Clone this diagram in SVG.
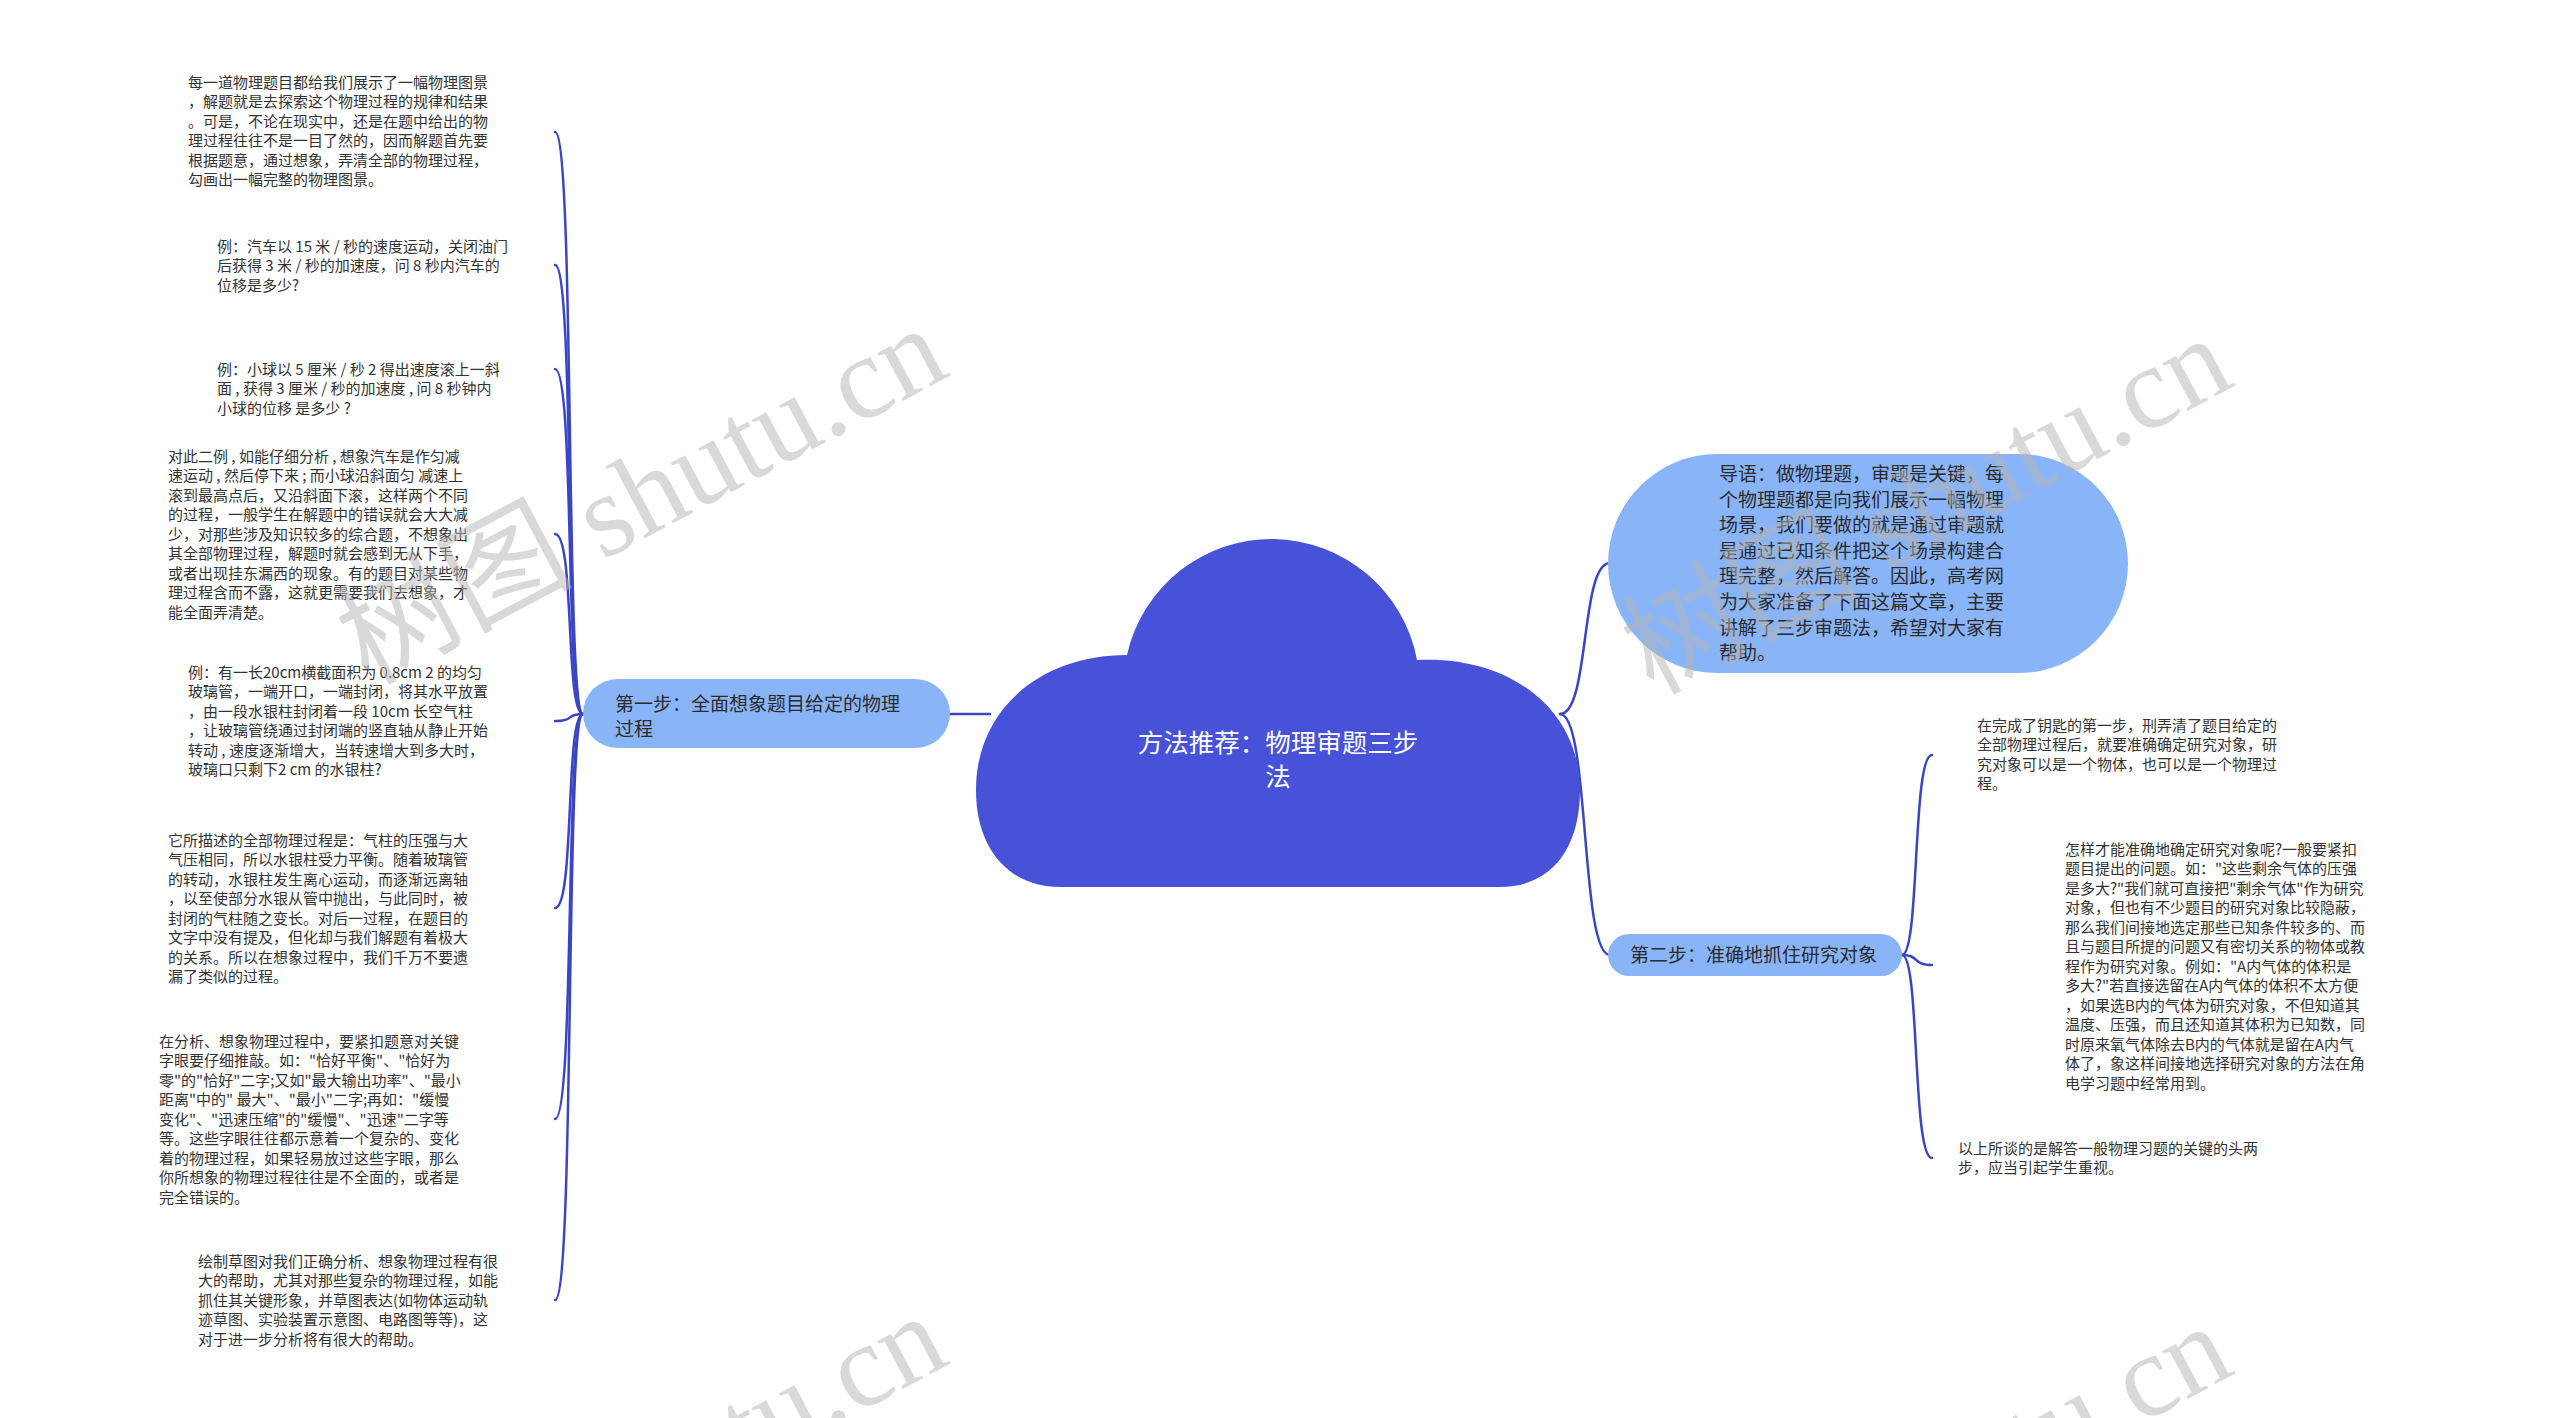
<svg xmlns="http://www.w3.org/2000/svg" width="2560" height="1418" viewBox="0 0 2560 1418">
<style>
.leaf{font-family:"Noto Sans CJK SC","Noto Sans",sans-serif;font-size:15px;fill:#333333;}
.topic{font-family:"Noto Sans CJK SC","Noto Sans",sans-serif;font-size:19px;fill:#2b2b2b;}
.main{font-family:"Noto Sans CJK SC","Noto Sans",sans-serif;font-size:25.5px;fill:#ffffff;text-anchor:middle;}
.node{fill:#8ab4f8;}
.conn{fill:none;stroke:#3a45c6;stroke-width:2.5;stroke-linecap:round;}
.wm{font-family:"Liberation Serif","Noto Sans CJK SC",serif;font-size:118px;fill:#b4b4b4;opacity:0.5;text-anchor:middle;}
</style>
<rect width="2560" height="1418" fill="#ffffff"/>
<g id="connectors">
<path class="conn" d="M950,714 L990,714"/>
<path class="conn" d="M1560,714 C1590,714 1580,563 1610,563"/>
<path class="conn" d="M1560,714 C1590,714 1580,955 1610,955"/>
<path class="conn" d="M583,714 C565,714 575,132 555,132"/>
<path class="conn" d="M583,714 C565,714 575,265 555,265"/>
<path class="conn" d="M583,714 C565,714 575,369 555,369"/>
<path class="conn" d="M583,714 C565,714 575,534 555,534"/>
<path class="conn" d="M583,714 C565,714 575,721 555,721"/>
<path class="conn" d="M583,714 C565,714 575,908 555,908"/>
<path class="conn" d="M583,714 C565,714 575,1119 555,1119"/>
<path class="conn" d="M583,714 C565,714 575,1300 555,1300"/>
<path class="conn" d="M1902,955 C1920,955 1912,755 1932,755"/>
<path class="conn" d="M1902,955 C1920,955 1912,965 1932,965"/>
<path class="conn" d="M1902,955 C1920,955 1912,1158 1932,1158"/>
</g>
<g id="root">
<path d="M1060,887 C1010,887 976,850 976,790 C976,710 1040,655 1127,655 A148 148 0 0 1 1417,660 C1510,655 1580,710 1580,790 C1580,850 1550,887 1500,887 Z" fill="#4752d8"/>
<text class="main" x="1278" y="752">方法推荐：物理审题三步</text>
<text class="main" x="1278" y="786">法</text>
</g>
<g id="step1">
<rect class="node" x="583" y="679" width="367" height="69" rx="34.5"/>
<text class="topic"><tspan x="615" y="711">第一步：全面想象题目给定的物理</tspan><tspan x="615" y="736">过程</tspan></text>
</g>
<g id="intro">
<rect class="node" x="1608" y="454" width="520" height="219" rx="109.5"/>
<text class="topic"><tspan x="1719" y="481">导语：做物理题，审题是关键，每</tspan><tspan x="1719" y="506.6">个物理题都是向我们展示一幅物理</tspan><tspan x="1719" y="532.2">场景，我们要做的就是通过审题就</tspan><tspan x="1719" y="557.8">是通过已知条件把这个场景构建合</tspan><tspan x="1719" y="583.4">理完整，然后解答。因此，高考网</tspan><tspan x="1719" y="609">为大家准备了下面这篇文章，主要</tspan><tspan x="1719" y="634.6">讲解了三步审题法，希望对大家有</tspan><tspan x="1719" y="660.2">帮助。</tspan></text>
</g>
<g id="step2">
<rect class="node" x="1608" y="934" width="294" height="42" rx="21"/>
<text class="topic" x="1630" y="962">第二步：准确地抓住研究对象</text>
</g>
<g id="leaf1">
<text class="leaf"><tspan x="188" y="87.5">每一道物理题目都给我们展示了一幅物理图景</tspan><tspan x="188" y="107">，解题就是去探索这个物理过程的规律和结果</tspan><tspan x="188" y="126.5">。可是，不论在现实中，还是在题中给出的物</tspan><tspan x="188" y="146">理过程往往不是一目了然的，因而解题首先要</tspan><tspan x="188" y="165.5">根据题意，通过想象，弄清全部的物理过程，</tspan><tspan x="188" y="185">勾画出一幅完整的物理图景。</tspan></text>
</g>
<g id="leaf2">
<text class="leaf"><tspan x="217" y="251.5">例：汽车以 15 米 / 秒的速度运动，关闭油门</tspan><tspan x="217" y="271">后获得 3 米 / 秒的加速度，问 8 秒内汽车的</tspan><tspan x="217" y="290.5">位移是多少?</tspan></text>
</g>
<g id="leaf3">
<text class="leaf"><tspan x="217" y="374.5">例：小球以 5 厘米 / 秒 2 得出速度滚上一斜</tspan><tspan x="217" y="394">面 , 获得 3 厘米 / 秒的加速度 , 问 8 秒钟内</tspan><tspan x="217" y="413.5">小球的位移 是多少 ?</tspan></text>
</g>
<g id="leaf4">
<text class="leaf"><tspan x="168" y="461.5">对此二例 , 如能仔细分析 , 想象汽车是作匀减</tspan><tspan x="168" y="481">速运动 , 然后停下来 ; 而小球沿斜面匀 减速上</tspan><tspan x="168" y="500.5">滚到最高点后，又沿斜面下滚，这样两个不同</tspan><tspan x="168" y="520">的过程，一般学生在解题中的错误就会大大减</tspan><tspan x="168" y="539.5">少，对那些涉及知识较多的综合题，不想象出</tspan><tspan x="168" y="559">其全部物理过程，解题时就会感到无从下手，</tspan><tspan x="168" y="578.5">或者出现挂东漏西的现象。有的题目对某些物</tspan><tspan x="168" y="598">理过程含而不露，这就更需要我们去想象，才</tspan><tspan x="168" y="617.5">能全面弄清楚。</tspan></text>
</g>
<g id="leaf5">
<text class="leaf"><tspan x="188" y="677.5">例：有一长20cm横截面积为 0.8cm 2 的均匀</tspan><tspan x="188" y="697">玻璃管，一端开口，一端封闭，将其水平放置</tspan><tspan x="188" y="716.5">，由一段水银柱封闭着一段 10cm 长空气柱</tspan><tspan x="188" y="736">，让玻璃管绕通过封闭端的竖直轴从静止开始</tspan><tspan x="188" y="755.5">转动 , 速度逐渐增大，当转速增大到多大时，</tspan><tspan x="188" y="775">玻璃口只剩下2 cm 的水银柱?</tspan></text>
</g>
<g id="leaf6">
<text class="leaf"><tspan x="168" y="845.5">它所描述的全部物理过程是：气柱的压强与大</tspan><tspan x="168" y="865">气压相同，所以水银柱受力平衡。随着玻璃管</tspan><tspan x="168" y="884.5">的转动，水银柱发生离心运动，而逐渐远离轴</tspan><tspan x="168" y="904">，以至使部分水银从管中抛出，与此同时，被</tspan><tspan x="168" y="923.5">封闭的气柱随之变长。对后一过程，在题目的</tspan><tspan x="168" y="943">文字中没有提及，但化却与我们解题有着极大</tspan><tspan x="168" y="962.5">的关系。所以在想象过程中，我们千万不要遗</tspan><tspan x="168" y="982">漏了类似的过程。</tspan></text>
</g>
<g id="leaf7">
<text class="leaf"><tspan x="159" y="1046.5">在分析、想象物理过程中，要紧扣题意对关键</tspan><tspan x="159" y="1066">字眼要仔细推敲。如："恰好平衡"、"恰好为</tspan><tspan x="159" y="1085.5">零"的"恰好"二字;又如"最大输出功率"、"最小</tspan><tspan x="159" y="1105">距离"中的" 最大"、"最小"二字;再如："缓慢</tspan><tspan x="159" y="1124.5">变化"、"迅速压缩"的"缓慢"、"迅速"二字等</tspan><tspan x="159" y="1144">等。这些字眼往往都示意着一个复杂的、变化</tspan><tspan x="159" y="1163.5">着的物理过程，如果轻易放过这些字眼，那么</tspan><tspan x="159" y="1183">你所想象的物理过程往往是不全面的，或者是</tspan><tspan x="159" y="1202.5">完全错误的。</tspan></text>
</g>
<g id="leaf8">
<text class="leaf"><tspan x="198" y="1266.5">绘制草图对我们正确分析、想象物理过程有很</tspan><tspan x="198" y="1286">大的帮助，尤其对那些复杂的物理过程，如能</tspan><tspan x="198" y="1305.5">抓住其关键形象，并草图表达(如物体运动轨</tspan><tspan x="198" y="1325">迹草图、实验装置示意图、电路图等等)，这</tspan><tspan x="198" y="1344.5">对于进一步分析将有很大的帮助。</tspan></text>
</g>
<g id="leafR1">
<text class="leaf"><tspan x="1977" y="730.5">在完成了钥匙的第一步，刑弄清了题目给定的</tspan><tspan x="1977" y="750">全部物理过程后，就要准确确定研究对象，研</tspan><tspan x="1977" y="769.5">究对象可以是一个物体，也可以是一个物理过</tspan><tspan x="1977" y="789">程。</tspan></text>
</g>
<g id="leafR2">
<text class="leaf"><tspan x="2065" y="854.5">怎样才能准确地确定研究对象呢?一般要紧扣</tspan><tspan x="2065" y="874">题目提出的问题。如："这些剩余气体的压强</tspan><tspan x="2065" y="893.5">是多大?"我们就可直接把"剩余气体"作为研究</tspan><tspan x="2065" y="913">对象，但也有不少题目的研究对象比较隐蔽，</tspan><tspan x="2065" y="932.5">那么我们间接地选定那些已知条件较多的、而</tspan><tspan x="2065" y="952">且与题目所提的问题又有密切关系的物体或教</tspan><tspan x="2065" y="971.5">程作为研究对象。例如："A内气体的体积是</tspan><tspan x="2065" y="991">多大?"若直接选留在A内气体的体积不太方便</tspan><tspan x="2065" y="1010.5">，如果选B内的气体为研究对象，不但知道其</tspan><tspan x="2065" y="1030">温度、压强，而且还知道其体积为已知数，同</tspan><tspan x="2065" y="1049.5">时原来氧气体除去B内的气体就是留在A内气</tspan><tspan x="2065" y="1069">体了，象这样间接地选择研究对象的方法在角</tspan><tspan x="2065" y="1088.5">电学习题中经常用到。</tspan></text>
</g>
<g id="leafR3">
<text class="leaf"><tspan x="1958" y="1153.5">以上所谈的是解答一般物理习题的关键的头两</tspan><tspan x="1958" y="1173">步，应当引起学生重视。</tspan></text>
</g>
<g id="watermark">
<text class="wm" transform="translate(660,530) rotate(-28)">树图 shutu.cn</text>
<text class="wm" transform="translate(1945,540) rotate(-28)">树图 shutu.cn</text>
<text class="wm" transform="translate(660,1518) rotate(-28)">树图 shutu.cn</text>
<text class="wm" transform="translate(1945,1528) rotate(-28)">树图 shutu.cn</text>
</g>
</svg>
